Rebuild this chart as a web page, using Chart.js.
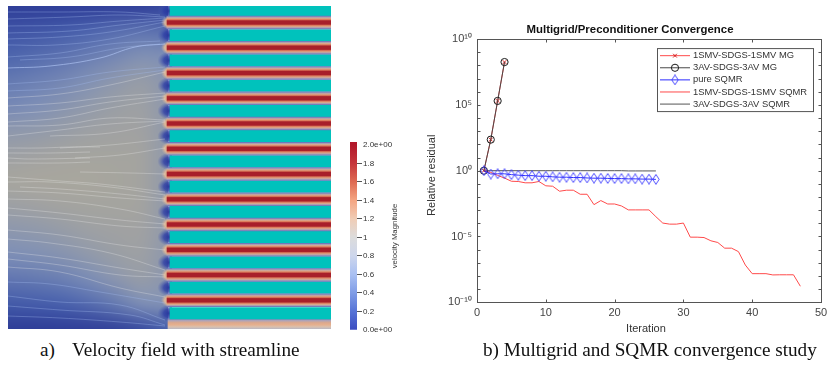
<!DOCTYPE html>
<html><head><meta charset="utf-8">
<script src="https://cdn.jsdelivr.net/npm/chart.js@4"></script>
<style>
html,body{margin:0;padding:0;background:#fff;overflow:hidden;width:830px;height:366px}
canvas{position:absolute;display:block}
.cap{position:absolute;font-family:"Liberation Serif",serif;font-size:19.2px;color:#111;white-space:pre;line-height:20px}
</style></head><body>
<canvas id="field" width="323" height="323" style="left:8px;top:6px;width:323px;height:323px"></canvas>
<canvas id="cbar" width="70" height="210" style="left:340px;top:130px;width:70px;height:210px"></canvas>
<canvas id="conv" width="410" height="338" style="left:425px;top:0;width:410px;height:338px"></canvas>
<div class="cap" style="left:40px;top:340px">a)</div>
<div class="cap" style="left:72px;top:340px">Velocity field with streamline</div>
<div class="cap" style="left:483px;top:340px">b) Multigrid and SQMR convergence study</div>
<script>
/* ---------- convergence data ---------- */
const xTicks=[0,10,20,30,40,50];
const yDecades=[1e-10,1e-9,1e-8,1e-7,1e-6,1e-5,1e-4,1e-3,1e-2,1e-1,1,1e1,1e2,1e3,1e4,1e5,1e6,1e7,1e8,1e9,1e10];
const seriesNames=['1SMV-SDGS-1SMV MG','3AV-SDGS-3AV MG','pure SQMR','1SMV-SDGS-1SMV SQMR','3AV-SDGS-3AV SQMR'];
const mgRed=[1,229,2e5,1.8e8];
const mgBlack=[1,229,2e5,1.8e8];
const pureSqmr=[1,.56,.58,.58,.50,.46,.42,.42,.38,.38,.34,.32,.32,.30,.30,.28,.27,.27,.26,.25,.25,.24,.24,.23,.23,.22];
const redSqmr=[1,.74,.44,.275,.158,.151,.12,.12,.151,.071,.066,.0275,.033,.033,.0162,.0162,.00263,.00537,.00295,.00295,.00209,.00105,.00105,.00105,.00105,3.2e-4,1.05e-4,8.7e-5,8.7e-5,1.05e-4,8.9e-6,8.9e-6,8.3e-6,4.7e-6,3.5e-6,1.3e-6,1.3e-6,7.1e-7,6.8e-8,1.5e-8,1.5e-8,1.5e-8,1.2e-8,1.23e-8,1.23e-8,1.23e-8,1.66e-9];
const blackSqmr=[1,1,1,1,1,1,1,1,1,1,1,1,1,1,1,1,1,1,1,1,1,.96,.96,.96,.96,.96];

/* ---------- velocity field data ---------- */
const fieldCols=[8,34.67,61.33,88,114.67,141.33,168];
const fieldRows=[6,30.8,55.7,80.5,105.4,130.2,155,179.9,204.7,229.6,254.4,279.2,304.1,329];
const fieldValues=[
 [.03,.03,.03,.03,.04,.05,.10],
 [.20,.22,.26,.32,.38,.42,.40],
 [.33,.37,.42,.48,.55,.62,.60],
 [.46,.50,.55,.62,.70,.76,.68],
 [.56,.60,.66,.72,.78,.80,.70],
 [.70,.72,.76,.80,.82,.82,.72],
 [.80,.82,.84,.85,.85,.84,.72],
 [.86,.87,.87,.87,.86,.84,.72],
 [.80,.82,.84,.85,.85,.84,.72],
 [.70,.72,.76,.80,.82,.82,.72],
 [.60,.62,.66,.72,.78,.80,.70],
 [.44,.46,.50,.58,.68,.76,.68],
 [.25,.27,.30,.36,.46,.60,.62],
 [.02,.02,.03,.04,.06,.14,.30]];
const valueStops=[0,.3,.6,.86,1.2,1.5,2];
const valueColors=[[44,58,150],[72,96,172],[125,142,182],[166,165,158],[226,190,160],[222,122,88],[165,25,36]];
const barStops=[0,.2,.4,.6,.8,1,1.2,1.4,1.6,1.8,2];
const barColors=['#3b4cc0','#5673d6','#7f9ce6','#a9c0f2','#cdd6ec','#dcdcdc','#f0cdb6','#f4a582','#de6a52','#c5363b','#b2182b'];
const barTicks=[0,.2,.4,.6,.8,1,1.2,1.4,1.6,1.8,2];
const barTickLabels=['0.0e+00','0.2','0.4','0.6','0.8','1','1.2','1.4','1.6','1.8','2.0e+00'];

const channelCenters=[22.5,47.7,73,98.3,123.5,148.8,174,199.3,224.5,249.8,275,300.3];
const blockCenters=[35.2,60.4,85.7,110.9,136.1,161.4,186.6,211.9,237.1,262.4,287.6,313.3];
const streamlines=[
 [[8,12],[60,12],[120,12],[160,15]],
 [[8,19],[70,17],[120,15],[165,17]],
 [[8,26],[70,25],[120,21],[165,18]],
 [[8,33],[70,31],[120,25],[165,20]],
 [[8,39],[60,37],[110,32],[165,22]],
 [[8,45],[55,45],[110,39],[165,26]],
 [[8,57],[60,53],[110,44],[160,41]],
 [[20,60],[70,57],[120,48],[160,44]],
 [[8,68],[50,66],[100,58],[135,47],[165,44]],
 [[8,84],[60,80],[110,72],[165,67]],
 [[8,91],[60,88],[110,78],[165,70]],
 [[8,98],[60,94],[110,85],[165,72]],
 [[8,106],[60,103],[110,97],[165,93]],
 [[8,114],[60,110],[110,102],[165,96]],
 [[8,122],[60,118],[110,108],[165,99]],
 [[8,126],[60,125],[110,118],[165,120]],
 [[8,136],[60,130],[110,124],[165,121]],
 [[50,136],[110,133],[165,122]],
 [[8,148],[40,148],[70,147],[100,147]],
 [[60,148],[110,145],[165,139]],
 [[8,153],[50,153],[90,152]],
 [[75,158],[120,155],[165,148]],
 [[8,158],[30,159],[90,158]],
 [[8,163],[60,163],[90,162]],
 [[80,172],[130,173],[165,174]],
 [[8,177],[60,181],[100,184],[165,192]],
 [[8,182],[50,182],[110,187],[165,195]],
 [[20,187],[60,189],[120,194],[165,199]],
 [[8,191],[60,193],[120,198],[165,201]],
 [[8,199],[60,201],[120,209],[165,219]],
 [[8,208],[60,213],[120,220],[165,224]],
 [[8,215],[60,219],[120,226],[165,228]],
 [[8,230],[60,235],[120,245],[165,250]],
 [[8,239],[50,243],[110,253],[165,270]],
 [[8,252],[60,258],[120,268],[165,275]],
 [[8,259],[60,265],[120,275],[165,277]],
 [[8,267],[60,272],[120,288],[165,297]],
 [[8,282],[50,284],[100,292],[165,303]],
 [[8,296],[60,302],[120,305],[165,320]],
 [[8,306],[60,310],[130,315],[165,325]],
 [[8,316],[60,318],[120,322],[165,326]]
];

/* ---------- helpers ---------- */
Chart.defaults.animation=false;
Chart.defaults.responsive=false;
Chart.defaults.font.family='"Liberation Sans",Arial,sans-serif';
function colorFor(v){
  for(let i=1;i<valueStops.length;i++){
    if(v<=valueStops[i]){
      const t=(v-valueStops[i-1])/(valueStops[i]-valueStops[i-1]);
      return valueColors[i-1].map((c,k)=>Math.round(c+(valueColors[i][k]-c)*t));
    }
  }
  return valueColors[valueColors.length-1];
}
function diamondImage(){
  const c=document.createElement('canvas');c.width=8;c.height=11;
  const g=c.getContext('2d');
  g.strokeStyle='#3a3aff';g.lineWidth=.9;
  g.beginPath();g.moveTo(4,.6);g.lineTo(7.2,5.5);g.lineTo(4,10.4);g.lineTo(.8,5.5);g.closePath();g.stroke();
  return c;
}
const diamond=diamondImage();

/* ---------- left panel ---------- */
const fieldPlugin={id:'fieldPlugin',
 beforeDatasetsDraw(chart){
  const ctx=chart.ctx,x=chart.scales.x,y=chart.scales.y;
  const off=document.createElement('canvas');off.width=fieldCols.length;off.height=fieldRows.length;
  const g=off.getContext('2d');
  fieldValues.forEach((row,r)=>row.forEach((v,c)=>{g.fillStyle='rgb('+colorFor(v).join(',')+')';g.fillRect(c,r,1,1);}));
  const x0=x.getPixelForValue(fieldCols[0]),x1=x.getPixelForValue(fieldCols[fieldCols.length-1]);
  const y0=y.getPixelForValue(fieldRows[0]),y1=y.getPixelForValue(fieldRows[fieldRows.length-1]);
  ctx.save();ctx.imageSmoothingEnabled=true;ctx.imageSmoothingQuality='high';
  ctx.drawImage(off,.5,.5,off.width-1,off.height-1,x0,y0,x1-x0,y1-y0);
  const xf=x.getPixelForValue(170);
  ctx.beginPath();ctx.rect(x0,y0,x1+4-x0,y1-y0);ctx.clip();
  [11].concat(blockCenters).forEach(c=>{
    const cy=y.getPixelForValue(c);
    ctx.save();ctx.translate(xf,cy);ctx.scale(1.4,1);
    const rg=ctx.createRadialGradient(0,0,0,0,0,9);
    rg.addColorStop(0,'rgba(36,50,155,1)');rg.addColorStop(.5,'rgba(45,62,165,.8)');rg.addColorStop(1,'rgba(70,90,175,0)');
    ctx.fillStyle=rg;ctx.beginPath();ctx.arc(0,0,9,0,7);ctx.fill();ctx.restore();
  });
  channelCenters.forEach(c=>{
    const cy=y.getPixelForValue(c);
    ctx.save();ctx.translate(xf,cy);ctx.scale(1.3,1);
    const rg=ctx.createRadialGradient(0,0,0,0,0,7);
    rg.addColorStop(0,'rgba(232,170,130,1)');rg.addColorStop(.6,'rgba(225,185,150,.9)');rg.addColorStop(1,'rgba(190,175,165,0)');
    ctx.fillStyle=rg;ctx.beginPath();ctx.arc(0,0,7,0,7);ctx.fill();ctx.restore();
  });
  ctx.restore();
 }
};
function channelGradient(ctx){
  const y=ctx.chart.scales.y;
  const c=channelCenters[ctx.dataIndex];
  if(c===undefined) return 'rgba(0,0,0,0)';
  const a=y.getPixelForValue(c-6.4),b=y.getPixelForValue(c+6.4);
  if(!Number.isFinite(a)||!Number.isFinite(b)) return '#a81f2a';
  const g=ctx.chart.ctx.createLinearGradient(0,a,0,b);
  g.addColorStop(0,'#6b73b8');g.addColorStop(.08,'#a79cb6');g.addColorStop(.17,'#d8a88e');g.addColorStop(.27,'#dd7c5c');
  g.addColorStop(.37,'#a81f2a');g.addColorStop(.63,'#a81f2a');g.addColorStop(.73,'#dd7c5c');g.addColorStop(.83,'#d8a88e');g.addColorStop(.92,'#a79cb6');g.addColorStop(1,'#6b73b8');
  return g;
}
function edgeGradient(ctx){
  const y=ctx.chart.scales.y;
  const a=y.getPixelForValue(318.5),b=y.getPixelForValue(329);
  if(!Number.isFinite(a)||!Number.isFinite(b)) return '#dca88c';
  const g=ctx.chart.ctx.createLinearGradient(0,a,0,b);
  g.addColorStop(0,'#6b73b8');g.addColorStop(.2,'#b0a4b8');g.addColorStop(.4,'#dca88c');g.addColorStop(.6,'#e6b08e');g.addColorStop(.8,'#d9c0ae');g.addColorStop(1,'#b9b7c4');
  return g;
}
const streamSets=streamlines.map((pts,i)=>{
  const midY=pts[0][1];
  const warm=midY>95&&midY<275;
  return {type:'line',data:pts.map(p=>({x:p[0],y:p[1]})),
    borderColor:i===8?'rgba(180,202,248,.62)':(warm?'rgba(235,235,235,.38)':'rgba(165,190,240,.42)'),
    borderWidth:i===8?1:.8,pointRadius:0,tension:.4,order:0};
});
new Chart(document.getElementById('field'),{
 type:'line',
 data:{datasets:streamSets.concat([
  {type:'bar',indexAxis:'y',grouped:false,order:1,barThickness:12.7,
   data:channelCenters.map(c=>({x:[167,331],y:c})),backgroundColor:channelGradient},
  {type:'bar',indexAxis:'y',grouped:false,order:2,barThickness:10.5,
   data:[{x:[168,331],y:323.75}],backgroundColor:edgeGradient},
  {type:'bar',indexAxis:'y',grouped:false,order:1,barThickness:11.4,
   data:blockCenters.map(c=>({x:[170,331],y:c})),backgroundColor:'#00c2bc'},
  {type:'bar',indexAxis:'y',grouped:false,order:1,barThickness:9.8,
   data:[{x:[170,331],y:11}],backgroundColor:'#00c2bc'}
 ])},
 options:{layout:{padding:0},plugins:{legend:{display:false},tooltip:{enabled:false}},
  scales:{x:{type:'linear',display:false,min:8,max:331,offset:false},
          y:{type:'linear',display:false,min:6,max:329,reverse:true,offset:false}}},
 plugins:[fieldPlugin]
});

/* ---------- colour bar ---------- */
const barTitle={id:'barTitle',afterDraw(chart){
  const c=chart.ctx;c.save();c.translate(55,106);c.rotate(-Math.PI/2);
  c.font='7.8px "Liberation Sans",sans-serif';c.fillStyle='#333';c.textAlign='center';c.textBaseline='middle';
  c.fillText('velocity Magnitude',0,0);c.restore();
}};
new Chart(document.getElementById('cbar'),{
 type:'bar',
 data:{labels:['velocity'],datasets:[{data:[[0,2.03]],barPercentage:1,categoryPercentage:1,
  backgroundColor(ctx){
    const y=ctx.chart.scales.y;
    const a=y.getPixelForValue(0),b=y.getPixelForValue(2);
    if(!Number.isFinite(a)||!Number.isFinite(b)) return '#dcdcdc';
    const g=ctx.chart.ctx.createLinearGradient(0,a,0,b);
    barStops.forEach((s,i)=>g.addColorStop(s/2,barColors[i]));
    return g;
  }}]},
 options:{layout:{padding:{left:10,top:12,bottom:10,right:0}},
  plugins:{legend:{display:false},tooltip:{enabled:false}},
  scales:{x:{display:false},
   y:{position:'right',min:0,max:2.03,
    afterFit(s){s.width=53;},
    afterBuildTicks(s){s.ticks=barTicks.map(v=>({value:v}));},
    border:{display:false},
    grid:{drawOnChartArea:false,drawTicks:true,tickLength:5,
      color:c=>(c.index===0||c.index===barTicks.length-1)?'rgba(0,0,0,0)':'#555'},
    ticks:{autoSkip:false,padding:1,color:'#333',font:{size:8},
      callback:(v)=>barTickLabels[barTicks.indexOf(v)]}}}},
 plugins:[barTitle]
});

/* ---------- convergence chart ---------- */
const styles=[
 {c:'#ff4a4a',pt:'crossRot',r:2.6,w:1,pc:'#d02020',o:2},
 {c:'#484848',pt:'circle',r:3.6,w:1,pc:'#1a1a1a',o:1},
 {c:'#2a2aff',pt:diamond,r:6,w:1,pc:'#2a2aff',o:0},
 {c:'#ff4a4a',pt:false,r:0,w:1,pc:'#ff4a4a',o:3},
 {c:'#555555',pt:false,r:0,w:1,pc:'#555555',o:4}
];
const seriesData=[mgRed,mgBlack,pureSqmr,redSqmr,blackSqmr];
const frame={id:'frame',
 afterLayout(chart){
  const t=chart.titleBlock; if(t){t.left=0;t.right=410;}
 },
 afterDraw(chart){
  const c=chart.ctx,a=chart.chartArea,x=chart.scales.x,y=chart.scales.y;
  c.save();c.strokeStyle='#555';c.lineWidth=1;c.translate(.5,.5);
  const L=Math.round(a.left),R=Math.round(a.right),T=Math.round(a.top),B=Math.round(a.bottom);
  c.strokeRect(L,T,R-L,B-T);
  c.beginPath();
  xTicks.forEach(v=>{const p=Math.round(x.getPixelForValue(v));c.moveTo(p,B);c.lineTo(p,B-3);c.moveTo(p,T);c.lineTo(p,T+3);});
  yDecades.forEach(v=>{const p=Math.round(y.getPixelForValue(v));c.moveTo(L,p);c.lineTo(L+3,p);c.moveTo(R,p);c.lineTo(R-3,p);});
  c.stroke();
  const lx=232,bw=156,by=a.top+9,bh=63;
  c.fillStyle='#fff';c.fillRect(lx,by,bw,bh);c.strokeRect(lx,by,bw,bh);
  c.restore();
  c.save();
  c.font='9.4px "Liberation Sans",sans-serif';c.textBaseline='middle';
  seriesNames.forEach((n,i)=>{
    const yy=by+7.6+i*12.1,s=styles[i];
    c.strokeStyle=s.c;c.lineWidth=1;c.beginPath();c.moveTo(lx+3,yy);c.lineTo(lx+33,yy);c.stroke();
    if(s.pt){
      c.fillStyle='rgba(0,0,0,0)';c.strokeStyle=s.pc;c.lineWidth=1;
      Chart.helpers.drawPoint(c,{pointStyle:s.pt,radius:s.r,borderWidth:1,rotation:0},lx+18,yy);
    }
    c.fillStyle='#333';c.fillText(n,lx+36,yy);
  });
  c.restore();
}};
new Chart(document.getElementById('conv'),{
 type:'line',
 data:{datasets:seriesData.map((d,i)=>({
   label:seriesNames[i],order:styles[i].o,
   data:d.map((v,k)=>({x:k+1,y:v})),
   borderColor:styles[i].c,borderWidth:styles[i].w,
   pointStyle:styles[i].pt,pointRadius:styles[i].r,
   pointBorderColor:styles[i].pc,pointBackgroundColor:'rgba(0,0,0,0)',pointBorderWidth:1,tension:0
 }))},
 options:{
  layout:{padding:{right:14,left:0,top:0,bottom:0}},
  plugins:{legend:{display:false},tooltip:{enabled:false},
   title:{display:true,text:'Multigrid/Preconditioner Convergence',color:'#111',font:{size:11.4,weight:'bold'},padding:{top:23.2,bottom:2.2}}},
  scales:{
   x:{type:'linear',min:0,max:50,
    afterBuildTicks(s){s.ticks=xTicks.map(v=>({value:v}));},
    afterFit(s){s.height=35.7;},
    border:{display:false},grid:{display:false,drawTicks:false,tickLength:0},
    ticks:{color:'#444',font:{size:11},padding:4,maxRotation:0},
    title:{display:true,text:'Iteration  ',color:'#333',font:{size:11},padding:{top:2,bottom:2.5}}},
   y:{type:'logarithmic',min:1e-10,max:1e10,
    afterBuildTicks(s){s.ticks=yDecades.map(v=>({value:v}));},
    afterFit(s){s.width=52;},
    border:{display:false},grid:{display:false,drawTicks:false,tickLength:0},
    ticks:{autoSkip:false,color:'#444',font:{size:11},padding:5,
      callback:(v)=>{const e=Math.round(Math.log10(v));return e%5===0?'10'+{'-10':'⁻¹⁰','-5':'⁻⁵','0':'⁰','5':'⁵','10':'¹⁰'}[e]:'';}},
    title:{display:true,text:'Relative residual   ',color:'#333',font:{size:11},padding:{top:0,bottom:0}}}
  }
 },
 plugins:[frame]
});
</script>
</body></html>
